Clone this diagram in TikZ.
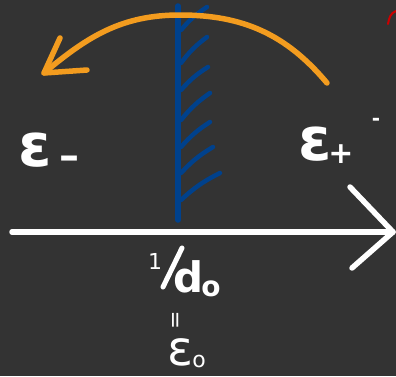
\documentclass[tikz,border=0pt]{standalone}
\usepackage{fontspec}
\setmainfont{DejaVu Sans}
\definecolor{bg}{HTML}{333333}
\definecolor{bl}{HTML}{00418C}
\definecolor{orng}{HTML}{F39C1F}
\definecolor{rd}{HTML}{CC0000}
\begin{document}
\begin{tikzpicture}[x=1pt,y=1pt,
  stroke/.style={line width=5.5pt,line cap=round,line join=round},
  lbl/.style={text=white,inner sep=0pt,font=\bfseries\fontsize{60}{60}\selectfont},
  sub/.style={text=white,inner sep=0pt,font=\bfseries\fontsize{34}{34}\selectfont}]
\fill[bg] (0,0) rectangle (396,376);
\useasboundingbox (0,0) rectangle (396,376);
% axis
\coordinate (ax0) at (12,144);
\coordinate (ax1) at (393,144);
\coordinate (ah1) at (350,189);
\coordinate (ah2) at (352,108);
\draw[stroke,white] (ax0) -- (ax1);
\draw[stroke,white] (ah1) -- (ax1) -- (ah2);
% blue wall
\coordinate (b0) at (178,370);
\coordinate (b1) at (178,156);
\draw[stroke,bl] (b0) -- (b1);
\foreach \ya/\xb/\yb in {346/207/369, 313/207/339, 286/208/309, 256/210/283, 229/210/254, 203/213/229, 176/220/203}{
  \draw[line width=4.5pt,line cap=round,bl] (181,\ya) to[bend left=8] (\xb,\yb);
}
% orange arc
\coordinate (o0) at (327,293);
\coordinate (otop) at (180,361);
\coordinate (o1) at (44,303);
\coordinate (oh1) at (60,338);
\coordinate (oh2) at (87,306);
\draw[stroke,orng] (o0) to[out=130,in=0] (otop) to[out=180,in=40] (o1);
\draw[stroke,orng] (oh1) -- (o1) -- (oh2);
% labels
\node[lbl] (em) at (35,226) {ε};
\node[sub,font=\bfseries\fontsize{40}{40}\selectfont] (emsub) at (69,213) {–};
\node[lbl] (ep) at (315,232) {ε};
\node[sub,font=\bfseries\fontsize{30}{30}\selectfont] (epsub) at (341,222) {+};
\node[sub,font=\bfseries\fontsize{20}{20}\selectfont] (dash) at (376,254) {-};
\draw[line width=2pt,rd,line cap=round] (388,352) to[out=80,in=200] (396,365);
% 1/d0
\node[sub,font=\fontsize{22}{22}\selectfont] (one) at (155,115) {1};
\draw[line width=5pt,white,line cap=round] (182,128) -- (163,89);
\node[sub,font=\bfseries\fontsize{42}{42}\selectfont] (d) at (189,99) {d};
\node[sub,font=\bfseries\fontsize{28}{28}\selectfont] (o) at (211,87) {o};
\node[text=white,inner sep=0pt,rotate=90,font=\fontsize{22}{22}\selectfont] (eq) at (178,56) {=};
\node[lbl,font=\fontsize{48}{48}\selectfont] (e0) at (180,24) {ε};
\node[sub,font=\fontsize{22}{22}\selectfont] (e0sub) at (199,15) {o};
\end{tikzpicture}
\end{document}
